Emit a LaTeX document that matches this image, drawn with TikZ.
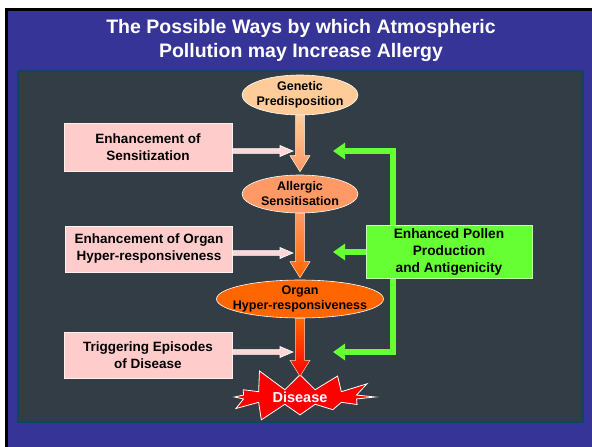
\documentclass[tikz,border=0pt]{standalone}
\usepackage{fontspec}
\setmainfont{Liberation Sans}
\definecolor{SlideBlue}{RGB}{54,52,150}
\definecolor{PanelGrey}{RGB}{51,61,69}
\definecolor{PanelEdge}{RGB}{12,72,92}
\definecolor{PinkBox}{RGB}{255,204,204}
\definecolor{PollenGreen}{RGB}{102,255,51}
\definecolor{PeachFill}{RGB}{255,204,153}
\definecolor{SalmonFill}{RGB}{255,153,102}
\definecolor{OrangeFill}{RGB}{255,102,0}
\definecolor{DiseaseRed}{RGB}{255,0,0}
\usetikzlibrary{calc, shapes.geometric, shapes.symbols, arrows.meta}
\tikzset{
    title text/.style={
        text=white, align=center,
        font=\fontsize{19.5}{24}\selectfont\bfseries
    },
    stage/.style={
        ellipse, draw=white, line width=0.6pt, inner xsep=-8pt, inner ysep=0pt,
        align=center, font=\fontsize{12.5}{15}\selectfont\bfseries
    },
    factor box/.style={
        rectangle, fill=PinkBox, draw=white!70!PinkBox, line width=0.8pt,
        align=center, font=\fontsize{13.5}{17}\selectfont\bfseries
    },
    pollen box/.style={
        rectangle, fill=PollenGreen, draw=white!60!PollenGreen, line width=0.8pt,
        align=center, font=\fontsize{13.7}{17}\selectfont\bfseries
    },
    disease burst/.style={
        starburst, starburst points=12, starburst point height=24pt,
        random starburst=5, fill=DiseaseRed, draw=white, line width=0.8pt,
        minimum width=165pt, minimum height=58pt, inner sep=0pt,
        text=white, font=\fontsize{14.5}{17}\selectfont\bfseries
    },
    pollen link/.style={
        draw=PollenGreen, line width=6pt, -{Triangle[width=16pt, length=12pt]}
    }
}
% flecha gruesa hacia abajo con degradado
\newcommand{\flowarrow}[4]{%
    \shadedraw[top color=#3, bottom color=#4, draw=white!70!#3, line width=0.5pt]
        ($(#1)+(-4.5,0)$) -- ($(#2)+(-4.5,-16)$) -- ($(#2)+(-10,-16)$) -- (#2)
        -- ($(#2)+(10,-16)$) -- ($(#2)+(4.5,-16)$) -- ($(#1)+(4.5,0)$) -- cycle;
}
% flecha rosa hacia la derecha
\newcommand{\pusharrow}[2]{%
    \filldraw[fill=PinkBox!80!white, draw=white, line width=0.6pt]
        ($(#1)+(0,-2.3)$) -- ($(#2)+(-13,-2.3)$) -- ($(#2)+(-13,-5.5)$) -- (#2)
        -- ($(#2)+(-13,5.5)$) -- ($(#2)+(-13,2.3)$) -- ($(#1)+(0,2.3)$) -- cycle;
}

\begin{document}
\begin{tikzpicture}[x=1pt, y=-1pt]
\useasboundingbox (0,0) rectangle (592,447);

% Fondo de la diapositiva
\fill[white] (0,0) rectangle (592,447);
\fill[black] (5,8) rectangle (592,447);
\fill[SlideBlue] (8,11) rectangle (592,447);
\filldraw[fill=PanelGrey, draw=PanelEdge, line width=1.2pt] (18,71) rectangle (583,422);

% Título
\node[title text] (title) at (301,41) {The Possible Ways by which Atmospheric\\Pollution may Increase Allergy};

% Etapas
\node[stage, fill=PeachFill, minimum width=116pt, minimum height=40pt] (gen) at (300,95) {Genetic\\Predisposition};
\node[stage, fill=SalmonFill, minimum width=116pt, minimum height=38pt] (sens) at (300,194) {Allergic\\Sensitisation};
\node[stage, fill=OrangeFill, minimum width=166pt, minimum height=38pt] (organ) at (300,299) {Organ\\Hyper-responsiveness};
\node[disease burst] (dis) at (300,397) {Disease};

% Factores
\node[factor box, minimum width=168pt, minimum height=48pt] (enh1) at (148,147) {Enhancement of\\Sensitization};
\node[factor box, minimum width=167pt, minimum height=46pt] (enh2) at (149,249) {Enhancement of Organ\\Hyper-responsiveness};
\node[factor box, minimum width=168pt, minimum height=46pt] (trig) at (148,355) {Triggering Episodes\\of Disease};

% Flechas principales
\coordinate (a1) at ($(sens.north)+(0,-3)$);
\coordinate (a2) at ($(organ.north)+(0,-2)$);
\coordinate (a3) at ($(organ.south)+(0,58)$);
\flowarrow{gen.south}{a1}{PeachFill}{SalmonFill}
\flowarrow{sens.south}{a2}{SalmonFill}{OrangeFill}
\flowarrow{organ.south}{a3}{OrangeFill}{DiseaseRed}

% Flechas de los factores
\coordinate (s1) at ($(enh1.east)+(0,4)$);
\coordinate (t1) at ($(s1 -| gen.south)+(-7,0)$);
\coordinate (s2) at ($(enh2.east)+(0,4)$);
\coordinate (t2) at ($(s2 -| gen.south)+(-7,0)$);
\coordinate (s3) at ($(trig.east)+(0,-3)$);
\coordinate (t3) at ($(s3 -| gen.south)+(-7,0)$);
\pusharrow{s1}{t1}
\pusharrow{s2}{t2}
\pusharrow{s3}{t3}

% Ramas verdes del polen
\coordinate (spine) at (393,252);
\coordinate (g1) at ($(s1 -| gen.south)+(33,0)$);
\coordinate (g2) at (333,252);
\coordinate (g3) at ($(s3 -| gen.south)+(33,0)$);
\draw[pollen link] (spine |- 0,230) |- (g1);
\draw[pollen link] (spine) -- (g2);
\draw[pollen link] (spine |- 0,275) |- (g3);

\node[pollen box, minimum width=166pt, minimum height=53pt] (pollen) at (449,252) {Enhanced Pollen\\Production\\and Antigenicity};

\end{tikzpicture}
\end{document}
